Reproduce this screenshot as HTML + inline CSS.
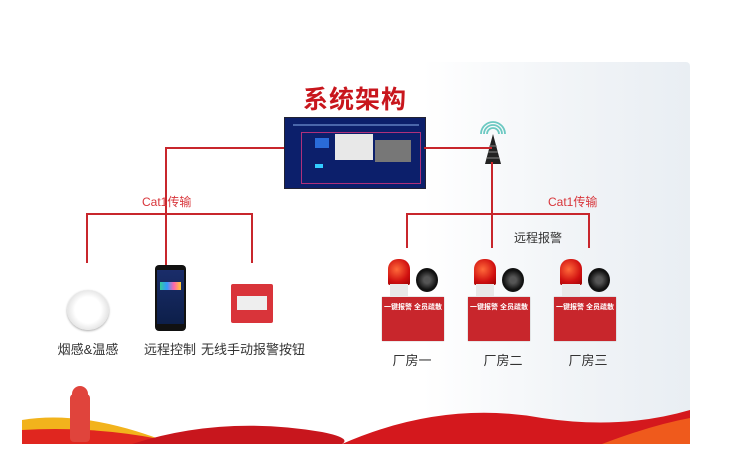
<!DOCTYPE html>
<html><head><meta charset="utf-8"><style>
body{margin:0;width:739px;height:466px;background:#fff;position:relative;overflow:hidden;font-family:"Liberation Sans","Noto Sans CJK SC",sans-serif}
.a{position:absolute}
.card{left:22px;top:62px;width:668px;height:382px;background:linear-gradient(90deg,#fff 0%,#fff 60%,#f1f4f7 82%,#e9eef3 100%);border-radius:4px;overflow:hidden}
.l{position:absolute;background:#c8262c}
.t{position:absolute;color:#333;font-size:13px;white-space:nowrap;transform:translateX(-50%)}
.box{position:absolute;width:62px;height:44px;background:#c8262c;color:#fff;font-size:6px;text-align:center;box-shadow:0 0 1px #999}
.bea{position:absolute;width:22px;height:26px;background:radial-gradient(circle at 40% 40%,#ff6a3a,#d01010 60%,#900);border-radius:10px 10px 2px 2px}
.bb{position:absolute;width:18px;height:12px;background:#e8e8e8}
.spk{position:absolute;width:22px;height:24px;border-radius:50%;background:radial-gradient(circle,#555 20%,#111 60%)}
</style></head><body>
<div class="a card"></div>
<div class="a" style="left:303px;top:80px;color:#c8161d;font-size:25px;font-weight:bold;letter-spacing:1px">系统架构</div>
<!-- monitor -->
<div class="a" style="left:284px;top:117px;width:140px;height:70px;background:#0c1f6b;border:1px solid #223">
 <div class="a" style="left:8px;top:6px;width:126px;height:2px;background:#4a66aa"></div>
 <div class="a" style="left:16px;top:14px;width:118px;height:50px;border:1px solid #b0307a"></div>
 <div class="a" style="left:50px;top:16px;width:38px;height:26px;background:#e8e8e8"></div>
 <div class="a" style="left:90px;top:22px;width:36px;height:22px;background:#777"></div>
 <div class="a" style="left:30px;top:20px;width:14px;height:10px;background:#2a6bd8"></div>
 <div class="a" style="left:30px;top:46px;width:8px;height:4px;background:#3cf"></div>
</div>
<!-- tower -->
<svg class="a" style="left:476px;top:120px" width="34" height="48" viewBox="0 0 34 48">
<path d="M5 14 A12 12 0 0 1 29 14 M8 14 A9 9 0 0 1 26 14 M11 14 A6 6 0 0 1 23 14" stroke="#6cc9c2" stroke-width="1.8" fill="none"/>
<path d="M17 14 L9 44 L25 44 Z" fill="#222"/><path d="M12 32 L22 32 M13 26 L21 26 M11 38 L23 38" stroke="#888" stroke-width="1"/>
</svg>
<!-- lines left -->
<div class="l" style="left:166px;top:147px;width:118px;height:2px"></div>
<div class="l" style="left:165px;top:147px;width:2px;height:118px"></div>
<div class="l" style="left:86px;top:213px;width:166px;height:2px"></div>
<div class="l" style="left:86px;top:213px;width:2px;height:50px"></div>
<div class="l" style="left:251px;top:213px;width:2px;height:50px"></div>
<div class="a" style="left:142px;top:193px;color:#d8353a;font-size:12px">Cat1传输</div>
<!-- lines right -->
<div class="l" style="left:424px;top:147px;width:68px;height:2px"></div>
<div class="l" style="left:491px;top:162px;width:2px;height:86px"></div>
<div class="l" style="left:406px;top:213px;width:184px;height:2px"></div>
<div class="l" style="left:406px;top:213px;width:2px;height:35px"></div>
<div class="l" style="left:588px;top:213px;width:2px;height:35px"></div>
<div class="a" style="left:548px;top:193px;color:#d8353a;font-size:12px">Cat1传输</div>
<div class="a" style="left:514px;top:229px;color:#333;font-size:12px">远程报警</div>
<!-- devices -->
<div class="a" style="left:67px;top:290px;width:42px;height:40px;border-radius:50%;background:radial-gradient(circle,#fff 45%,#e6e6e6 70%,#ccc);box-shadow:0 1px 2px #aaa"></div>
<div class="a" style="left:155px;top:265px;width:31px;height:66px;background:#111;border-radius:4px"><div class="a" style="left:2px;top:5px;width:27px;height:54px;background:linear-gradient(#1a2d6a,#0d1f4a)"><div class="a" style="left:3px;top:12px;width:21px;height:8px;background:linear-gradient(90deg,#3c9,#39f,#f6a,#fc3)"></div></div></div>
<div class="a" style="left:231px;top:284px;width:42px;height:39px;background:#d9343a;border-radius:2px"><div class="a" style="left:6px;top:12px;width:30px;height:14px;background:#eee"></div></div>
<div class="t" style="left:88px;top:339px">烟感&amp;温感</div>
<div class="t" style="left:170px;top:339px">远程控制</div>
<div class="t" style="left:253px;top:339px">无线手动报警按钮</div>
<!-- alarm units -->
<div class="bea" style="left:388px;top:259px"></div><div class="bb" style="left:390px;top:284px"></div><div class="spk" style="left:416px;top:268px"></div>
<div class="box" style="left:382px;top:297px"><div style="margin-top:5px;font-size:7px;font-weight:bold">一键报警 全员疏散</div></div>
<div class="bea" style="left:474px;top:259px"></div><div class="bb" style="left:476px;top:284px"></div><div class="spk" style="left:502px;top:268px"></div>
<div class="box" style="left:468px;top:297px"><div style="margin-top:5px;font-size:7px;font-weight:bold">一键报警 全员疏散</div></div>
<div class="bea" style="left:560px;top:259px"></div><div class="bb" style="left:562px;top:284px"></div><div class="spk" style="left:588px;top:268px"></div>
<div class="box" style="left:554px;top:297px"><div style="margin-top:5px;font-size:7px;font-weight:bold">一键报警 全员疏散</div></div>
<div class="t" style="left:412px;top:350px">厂房一</div>
<div class="t" style="left:503px;top:350px">厂房二</div>
<div class="t" style="left:588px;top:350px">厂房三</div>
<!-- banner -->
<svg class="a" style="left:22px;top:380px" width="668" height="64" viewBox="0 0 668 64">
<path d="M0 40 Q60 30 140 60 L0 64 Z" fill="#f2b31c"/>
<path d="M0 50 Q80 45 160 64 L0 64 Z" fill="#e0261f"/>
<path d="M110 64 Q200 35 300 52 Q330 58 320 64 Z" fill="#c8161d"/>
<path d="M320 64 Q420 20 520 38 Q600 50 668 30 L668 64 Z" fill="#d4181d"/>
<path d="M580 64 Q630 45 668 38 L668 64 Z" fill="#ef5a1c"/>
<rect x="48" y="14" width="20" height="48" rx="4" fill="#e0443c"/><circle cx="58" cy="14" r="8" fill="#e0443c"/>
</svg>
</body></html>
